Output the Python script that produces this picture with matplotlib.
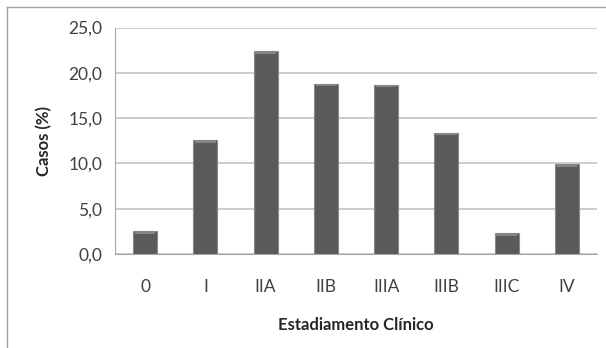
import matplotlib.pyplot as plt
from matplotlib.ticker import FuncFormatter
from matplotlib.lines import Line2D
import numpy as np

# Distribuição dos casos por estadiamento clínico
estadios = ["0", "I", "IIA", "IIB", "IIIA", "IIIB", "IIIC", "IV"]
casos = [2.5, 12.6, 22.4, 18.8, 18.7, 13.4, 2.3, 9.9]
y_ticks = [0, 5, 10, 15, 20, 25]

plt.rcParams['font.family'] = ['Lato', 'DejaVu Sans']

fig = plt.figure(figsize=(6.06, 3.48), dpi=100)
W, H = 606, 348
ax = fig.add_axes([115 / W, 1 - 254 / H, (597 - 115) / W, (254 - 27.5) / H])

x = np.arange(len(estadios))
ax.bar(x, casos, width=0.4, color="#5a5a5a", edgecolor="#8a8a8a",
       linewidth=0.8, zorder=3)
# reflexo claro no topo de cada barra
ax.bar(x, [0.3] * len(casos), bottom=np.array(casos) - 0.3, width=0.34,
       color="#858585", linewidth=0, zorder=4)

ax.set_xlim(-0.5, len(estadios) - 0.5)
ax.set_ylim(0, 25)
ax.set_yticks(y_ticks)
ax.yaxis.set_major_formatter(FuncFormatter(lambda v, p: f"{v:.1f}".replace(".", ",")))
ax.set_xticks(x)
ax.set_xticklabels(estadios)

ax.grid(axis="y", color="#c4c4c4", linewidth=1.2, zorder=0)
ax.tick_params(axis="both", length=0, labelsize=12.5, colors="#404040")
ax.tick_params(axis="x", pad=18)
ax.tick_params(axis="y", pad=9)
for s in ["top", "right"]:
    ax.spines[s].set_visible(False)
ax.spines["left"].set_color("#a6a6a6")
ax.spines["bottom"].set_color("#a6a6a6")

ax.set_ylabel("Casos (%)", fontsize=12, fontweight="bold", color="#262626", labelpad=12)
ax.set_xlabel("Estadiamento Clínico", fontsize=12, fontweight="bold",
              color="#262626", labelpad=16)

# moldura da área do gráfico
fig.add_artist(Line2D([7 / W, 7 / W], [0, 1 - 7 / H], transform=fig.transFigure,
                      color="#a0a0a0", linewidth=1))
fig.add_artist(Line2D([7 / W, 1], [1 - 7 / H, 1 - 7 / H], transform=fig.transFigure,
                      color="#a0a0a0", linewidth=1))

fig.savefig("out.png", dpi=100)
